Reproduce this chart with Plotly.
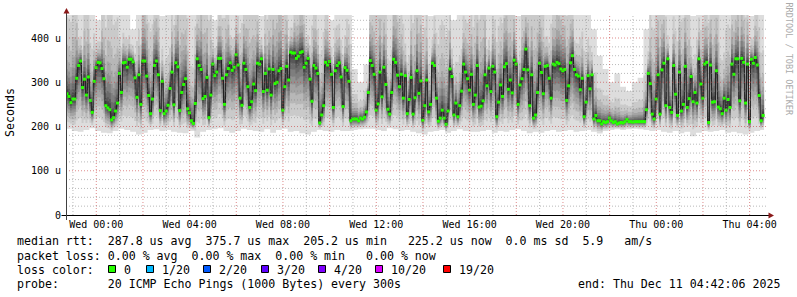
import plotly.graph_objects as go
import pandas as pd

# ---------------- data ----------------
END_TIME = "2025-12-11 04:42:06"
STEP_SECONDS = 300
WINDOW_STEPS = 360          # 30 h window
BUCKET_STEPS = 3            # smoke envelope read per 15-min bucket

# median RTT per 300 s step (microseconds)
median_us = [
    274, 268, 254, 262, 262, 309, 338, 348, 288, 307,
    271, 312, 259, 232, 302, 333, 345, 344, 331, 308,
    247, 242, 238, 215, 220, 235, 253, 320, 277, 344,
    345, 334, 352, 352, 346, 310, 266, 317, 250, 348,
    348, 314, 270, 229, 262, 338, 348, 317, 236, 302,
    229, 235, 248, 286, 323, 249, 344, 335, 236, 277,
    295,
    308, 240, 231, 213, 207, 252, 353, 338, 329, 263,
    268, 311, 220, 271, 341, 315, 323, 354, 354, 309,
    250, 317, 331, 344, 327, 334, 362, 339, 264, 248,
    343, 329, 290, 243, 256, 296, 281, 343, 341, 353,
    279, 320, 282, 330, 271, 329, 297, 300, 326, 331,
    237, 290, 336, 305, 368, 366, 366, 354, 359, 367,
    369, 334, 343, 354, 307, 257, 338, 332, 320, 208,
    226, 247, 345, 339, 347, 318, 243, 326, 338, 344,
    312, 245, 333, 327, 302, 213, 217, 217, 217, 213,
    219, 217, 221, 233, 277, 349, 338, 318, 237, 251,
    323, 267, 334, 295, 239, 228, 277, 352, 345, 316,
    290, 318, 264, 315, 229, 261, 311, 228, 265, 326,
    275,
    303, 214, 247, 305, 233, 250, 343, 338, 264, 212,
    219, 237, 219, 205, 235, 330, 313, 226, 253, 222,
    247, 280, 341, 323, 308, 282, 318, 250, 271, 338,
    244, 246, 258, 317, 292, 332, 279, 336, 323, 222,
    255, 294, 268, 335, 342, 284, 305, 276, 350, 341,
    250, 294, 308, 329, 375, 328, 247, 317, 219, 226,
    277, 343, 322, 274, 336, 338, 309, 264, 341, 339,
    345, 342, 330, 326, 329, 259, 292, 344, 360, 329,
    317, 314, 283, 309, 222, 255, 315, 285, 317, 217,
    225, 213, 213, 206, 211, 209, 211, 219, 213, 209,
    211, 206, 208, 209, 208, 211, 216, 211, 211, 210,
    211, 211, 211, 211, 211, 211,
    238, 320, 297, 228, 217,
    262, 317, 228, 328, 343, 247, 353, 243, 232, 338,
    273, 225, 323, 235, 250, 336, 243, 263, 313, 256,
    277, 253, 353, 296, 264, 341, 345, 209, 339, 255,
    256, 326, 244, 240, 229, 264, 237, 261, 243, 341,
    318, 353, 353, 258, 354, 345, 253, 341, 211, 352,
    343, 356, 339, 270, 213, 225,
]

# fastest ping per 15-min bucket (microseconds)
smoke_min_us = [
    195, 190, 188, 192, 196, 190, 186, 185, 190, 195,
    192, 188, 182, 186, 192, 194, 190, 192, 188, 186,
    185, 190, 175, 188, 192, 194, 196, 190, 186, 190,
    195, 192, 190, 188, 194, 186, 192, 195, 188, 190,
    185, 182, 188, 192, 190, 188, 192, 190, 190, 192,
    194, 195, 195, 192, 190, 196, 194, 190, 192, 188,
    185, 182, 188, 190, 192, 186, 190, 194, 190, 188,
    188, 190, 192, 186, 190, 188, 192, 194, 190, 185,
    188, 186, 190, 192, 188, 190, 192, 188, 190, 192,
    188, 184, 190, 192, 194, 192, 194, 195, 194, 192,
    190, 192, 188, 186, 190, 185, 188, 178, 186, 190,
    188, 190, 192, 186, 188, 185, 182, 186, 190, 192,
]

# slowest ping per 15-min bucket (microseconds)
smoke_max_us = [
    620, 700, 460, 650, 520, 440, 600, 720, 640, 480,
    460, 420, 520, 680, 600, 650, 450, 470, 610, 700,
    650, 460, 600, 720, 660, 440, 580, 640, 470, 560,
    620, 700, 640, 450, 600, 680, 720, 660, 480, 580,
    640, 460, 600, 520, 580, 440, 520, 480, 560, 330,
    300, 340, 620, 700, 650, 470, 690, 600, 460, 640,
    700, 600, 450, 560, 640, 600, 440, 470, 560, 600,
    640, 700, 460, 560, 600, 680, 640, 450, 600, 660,
    700, 640, 470, 600, 680, 640, 620, 460, 520, 480,
    420, 360, 330, 300, 320, 290, 280, 300, 310, 420,
    620, 700, 650, 460, 560, 640, 680, 450, 540, 600,
    660, 700, 470, 600, 620, 680, 640, 450, 580, 520,
]

# position of the sorted pings between median and the extremes (outer -> inner)
lower_frac = [1.0, 0.80, 0.64, 0.51, 0.40, 0.30, 0.21, 0.13, 0.07, 0.02]
upper_frac = [1.0, 0.50, 0.32, 0.22, 0.16, 0.12, 0.08, 0.05, 0.03, 0.01]

y_tick_vals = [0, 100, 200, 300, 400]
y_tick_text = ["0", "100 u", "200 u", "300 u", "400 u"]
x_tick_times = ["2025-12-10 00:00", "2025-12-10 04:00", "2025-12-10 08:00",
                "2025-12-10 12:00", "2025-12-10 16:00", "2025-12-10 20:00",
                "2025-12-11 00:00", "2025-12-11 04:00"]
x_tick_text = ["Wed 00:00", "Wed 04:00", "Wed 08:00", "Wed 12:00",
               "Wed 16:00", "Wed 20:00", "Thu 00:00", "Thu 04:00"]

stat_lines = [
    "median rtt:  287.8 us avg  375.7 us max  205.2 us min   225.2 us now  0.0 ms sd  5.9   am/s",
    "packet loss: 0.00 % avg  0.00 % max  0.00 % min   0.00 % now",
    "loss color:",
    "probe:       20 ICMP Echo Pings (1000 Bytes) every 300s",
]
end_text = "end: Thu Dec 11 04:42:06 2025"
loss_labels = ["0", "1/20", "2/20", "3/20", "4/20", "10/20", "19/20"]
loss_colors = ["#26ff00", "#00b8ff", "#0059ff", "#5e00ff", "#7e00ff", "#dd00ff", "#ff0000"]

# ---------------- geometry ----------------
W_FIG, H_FIG = 797, 297
L, T, PW, PH = 66, 15, 700, 200
Y_MAX = 452
FONT = "DejaVu Sans Mono"


def fx(px):
    return (px - L) / PW


def fy(py):
    return (T + PH - py) / PH


def nb(s):
    return s.replace(" ", "\u00a0")


end = pd.Timestamp(END_TIME)
step = pd.Timedelta(seconds=STEP_SECONDS)
start = end - WINDOW_STEPS * step
n = len(median_us)
step_starts = [start + i * step for i in range(n)]
xs = step_starts + [start + n * step]
centers = [t + step / 2 for t in step_starts]

fig = go.Figure()

# smoke layers (outer = light, inner = dark), smokeping colour ramp
for k in range(10):
    shade = int(190 / 10 * (10 - (k + 1))) + 50
    col = "#%02x%02x%02x" % (shade, shade, shade)
    lo_v, hi_v = [], []
    for i, m in enumerate(median_us):
        b = i // BUCKET_STEPS
        lo_v.append(m - (m - smoke_min_us[b]) * lower_frac[k])
        hi_v.append(m + (smoke_max_us[b] - m) * upper_frac[k])
    lo_v.append(lo_v[-1])
    hi_v.append(hi_v[-1])
    fig.add_trace(go.Scatter(x=xs, y=lo_v, mode="lines", line=dict(width=0, shape="hv"),
                             hoverinfo="skip", showlegend=False))
    fig.add_trace(go.Scatter(x=xs, y=hi_v, mode="lines", line=dict(width=0, shape="hv"),
                             fill="tonexty", fillcolor=col, hoverinfo="skip", showlegend=False))

# median connector line
fig.add_trace(go.Scatter(x=xs, y=median_us + [median_us[-1]], mode="lines",
                         line=dict(color="#202020", width=1, shape="hv"),
                         hoverinfo="skip", showlegend=False))
# median marks coloured by loss (all 0 loss)
fig.add_trace(go.Scatter(x=centers, y=median_us, mode="markers",
                         marker=dict(symbol="square", size=3, color=loss_colors[0], line=dict(width=0)),
                         showlegend=False))

shapes = []
grid_dash = "1px,2px"
minor_col = "rgba(130,130,130,0.55)"
major_col = "rgba(200,60,60,0.6)"
# horizontal grid
for v in range(20, Y_MAX, 20):
    shapes.append(dict(type="line", xref="paper", yref="y", x0=0, x1=fx(768), y0=v, y1=v,
                       line=dict(color=major_col if v % 100 == 0 else minor_col, width=1, dash=grid_dash),
                       layer="above"))
# vertical grid
for t in pd.date_range(start.ceil("h"), end, freq="h"):
    shapes.append(dict(type="line", xref="x", yref="paper", x0=t, x1=t, y0=0, y1=1,
                       line=dict(color=major_col if t.hour % 2 == 0 else minor_col, width=1, dash=grid_dash),
                       layer="above"))
# axes
shapes.append(dict(type="line", xref="paper", yref="paper", x0=fx(61.5), x1=fx(770), y0=fy(215.5), y1=fy(215.5),
                   line=dict(color="#000000", width=1), layer="above"))
shapes.append(dict(type="line", xref="paper", yref="paper", x0=fx(66.5), x1=fx(66.5), y0=fy(220), y1=fy(12),
                   line=dict(color="#404040", width=1), layer="above"))
arrow_col = "#8b1a1a"
shapes.append(dict(type="path", xref="paper", yref="paper",
                   path="M %f,%f L %f,%f L %f,%f Z" % (fx(66.5), fy(8), fx(63.5), fy(13.5), fx(69.5), fy(13.5)),
                   fillcolor=arrow_col, line=dict(width=0), layer="above"))
shapes.append(dict(type="path", xref="paper", yref="paper",
                   path="M %f,%f L %f,%f L %f,%f Z" % (fx(774), fy(215.5), fx(768.5), fy(212.5), fx(768.5), fy(218.5)),
                   fillcolor=arrow_col, line=dict(width=0), layer="above"))

annotations = []
annotations.append(dict(text="Seconds", x=fx(10), y=fy(113), xref="paper", yref="paper", showarrow=False,
                        textangle=-90, xanchor="center", yanchor="middle",
                        font=dict(family=FONT, size=11.6, color="#000")))
annotations.append(dict(text=nb("RRDTOOL / TOBI OETIKER"), x=fx(788.5), y=fy(59), xref="paper", yref="paper",
                        showarrow=False, textangle=90, xanchor="center", yanchor="middle",
                        font=dict(family=FONT, size=8.5, color="#aaaaaa")))
line_y = [241, 255.5, 269.5, 284]
for s, yy in zip(stat_lines, line_y):
    annotations.append(dict(text=nb(s), x=fx(15), y=fy(yy), xref="paper", yref="paper", showarrow=False,
                            xanchor="left", yanchor="middle", font=dict(family=FONT, size=11.6, color="#000")))
annotations.append(dict(text=nb(end_text), x=fx(782), y=fy(284), xref="paper", yref="paper", showarrow=False,
                        xanchor="right", yanchor="middle", font=dict(family=FONT, size=11.6, color="#000")))
box_x = [108, 146, 203, 261, 318, 375, 443]
for bx, lab, c in zip(box_x, loss_labels, loss_colors):
    shapes.append(dict(type="rect", xref="paper", yref="paper", x0=fx(bx + 0.5), x1=fx(bx + 7.5),
                       y0=fy(265.5), y1=fy(272.5), fillcolor=c, line=dict(color="#000", width=1), layer="above"))
    annotations.append(dict(text=lab, x=fx(bx + 14), y=fy(269.5), xref="paper", yref="paper", showarrow=False,
                            xanchor="left", yanchor="middle", font=dict(family=FONT, size=11.6, color="#000")))

fig.update_layout(
    width=W_FIG, height=H_FIG, autosize=False,
    margin=dict(l=L, r=W_FIG - L - PW, t=T, b=H_FIG - T - PH, pad=0),
    paper_bgcolor="white", plot_bgcolor="white", showlegend=False,
    font=dict(family=FONT, size=10, color="#000"),
    shapes=shapes, annotations=annotations,
    xaxis=dict(type="date", range=[start, end], showgrid=False, zeroline=False, showline=False,
               tickmode="array", tickvals=x_tick_times, ticktext=x_tick_text, ticks="",
               tickfont=dict(family=FONT, size=10, color="#000"), ticklabelstandoff=2, fixedrange=True),
    yaxis=dict(range=[0, Y_MAX], showgrid=False, zeroline=False, showline=False,
               tickmode="array", tickvals=y_tick_vals, ticktext=y_tick_text, ticks="",
               tickfont=dict(family=FONT, size=10, color="#000"), ticklabelstandoff=4, fixedrange=True),
)

fig.write_html("out.html")
